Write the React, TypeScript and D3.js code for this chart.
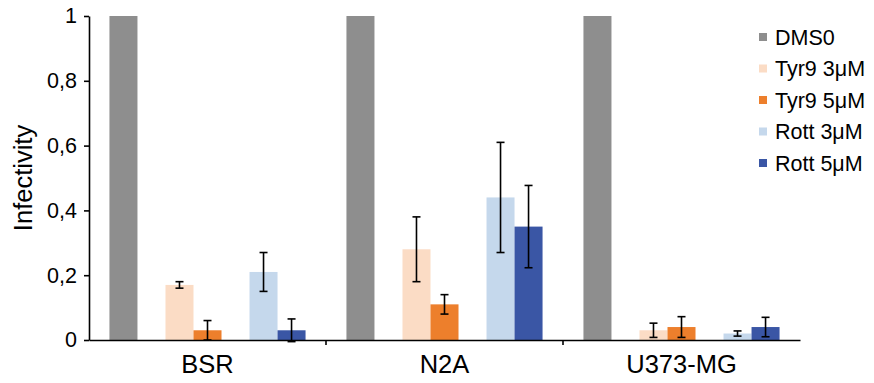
import React, { useEffect, useRef } from 'react';
import * as d3 from 'd3';

const cellLines = ['BSR', 'N2A', 'U373-MG'];
const seriesNames = ['DMS0', 'Tyr9 3μM', 'Tyr9 5μM', 'Rott 3μM', 'Rott 5μM'];
const seriesColors = ['#8e8e8e', '#fbdcc5', '#ed7f2c', '#c5d8ec', '#3a56a5'];
// slots inside each group: empty ones leave the gaps between treatment pairs
const slots = ['DMS0', 'gap1', 'Tyr9 3μM', 'Tyr9 5μM', 'gap2', 'Rott 3μM', 'Rott 5μM'];

const dmso = [1, 1, 1];
const tyr3 = [0.17, 0.28, 0.03];
const tyr5 = [0.03, 0.11, 0.04];
const rott3 = [0.21, 0.44, 0.02];
const rott5 = [0.03, 0.35, 0.04];

const tyr3Err = [0.01, 0.1, 0.022];
const tyr5Err = [0.03, 0.03, 0.032];
const rott3Err = [0.06, 0.17, 0.008];
const rott5Err = [0.035, 0.127, 0.03];

const yTicks = [0, 0.2, 0.4, 0.6, 0.8, 1];

const App = () => {
  const svgRef = useRef<SVGSVGElement>(null);

  useEffect(() => {
    const width = 874;
    const height = 383;
    const margin = { top: 16, right: 74, bottom: 43, left: 89 };
    const font = 'Liberation Sans, Arial, sans-serif';

    const svg = d3.select(svgRef.current)
      .attr('width', width)
      .attr('height', height)
      .style('position', 'absolute')
      .style('left', 0)
      .style('top', 0);
    svg.selectAll('*').remove();

    const values = [dmso, tyr3, tyr5, rott3, rott5];
    const errors = [null, tyr3Err, tyr5Err, rott3Err, rott5Err];

    const x0 = d3.scaleBand()
      .domain(cellLines)
      .range([margin.left, width - margin.right]);

    const x1 = d3.scaleBand()
      .domain(slots)
      .range([0, x0.bandwidth()])
      .paddingInner(0)
      .paddingOuter(0.73);

    const y = d3.scaleLinear()
      .domain([0, 1])
      .range([height - margin.bottom, margin.top]);

    const rows = cellLines.flatMap((c, i) =>
      seriesNames.map((s, j) => ({
        cat: c,
        series: s,
        value: values[j][i],
        err: errors[j] ? errors[j]![i] : null,
        color: seriesColors[j],
      }))
    );

    svg.append('g')
      .selectAll('rect')
      .data(rows)
      .join('rect')
      .attr('x', d => x0(d.cat)! + x1(d.series)!)
      .attr('y', d => y(d.value))
      .attr('width', x1.bandwidth())
      .attr('height', d => y(0) - y(d.value))
      .attr('fill', d => d.color);

    // error bars
    const eb = svg.append('g')
      .attr('stroke', '#000')
      .attr('stroke-width', 1.6)
      .selectAll('g')
      .data(rows.filter(d => d.err !== null))
      .join('g')
      .attr('transform', d => `translate(${x0(d.cat)! + x1(d.series)! + x1.bandwidth() / 2},0)`);
    eb.append('line')
      .attr('y1', d => y(d.value - d.err!))
      .attr('y2', d => y(d.value + d.err!));
    eb.append('line')
      .attr('x1', -4).attr('x2', 4)
      .attr('y1', d => y(d.value - d.err!))
      .attr('y2', d => y(d.value - d.err!));
    eb.append('line')
      .attr('x1', -4).attr('x2', 4)
      .attr('y1', d => y(d.value + d.err!))
      .attr('y2', d => y(d.value + d.err!));

    // y axis
    const yAxis = svg.append('g')
      .attr('transform', `translate(${margin.left},0)`)
      .call(d3.axisLeft(y).tickValues(yTicks).tickSize(5).tickSizeOuter(0)
        .tickFormat(d => (d === 0 || d === 1) ? String(d) : d3.format('.1f')(d as number).replace('.', ',')));
    yAxis.select('.domain').attr('stroke-width', 1.6);
    yAxis.selectAll('.tick line').attr('stroke-width', 1.6);
    yAxis.selectAll('text')
      .attr('x', -12)
      .style('font-family', font)
      .style('font-size', '21.5px')
      .attr('fill', '#000');

    // x axis
    const xAxis = svg.append('g')
      .attr('transform', `translate(0,${y(0)})`)
      .call(d3.axisBottom(x0).tickSize(0).tickSizeOuter(0));
    xAxis.select('.domain').attr('stroke-width', 1.6);
    xAxis.selectAll('text')
      .attr('dy', '0')
      .attr('y', 33)
      .style('font-family', font)
      .style('font-size', '25.5px')
      .attr('fill', '#000');
    xAxis.selectAll('line.sep')
      .data(cellLines.slice(1))
      .join('line')
      .attr('class', 'sep')
      .attr('x1', d => x0(d)!)
      .attr('x2', d => x0(d)!)
      .attr('y1', 0)
      .attr('y2', 5)
      .attr('stroke', '#000')
      .attr('stroke-width', 1.6);

    svg.append('text')
      .attr('transform', `translate(32,${(y(0) + y(1)) / 2}) rotate(-90)`)
      .attr('text-anchor', 'middle')
      .style('font-family', font)
      .style('font-size', '25.5px')
      .text('Infectivity');

    // legend
    const legend = svg.append('g')
      .selectAll('g')
      .data(seriesNames)
      .join('g')
      .attr('transform', (d, i) => `translate(759,${37 + i * 31.5})`);
    legend.append('rect')
      .attr('x', 0)
      .attr('y', -4)
      .attr('width', 8)
      .attr('height', 8)
      .attr('fill', (d, i) => seriesColors[i]);
    legend.append('text')
      .attr('x', 16)
      .attr('dy', '0.36em')
      .style('font-family', font)
      .style('font-size', '21.5px')
      .text(d => d);
  }, []);

  return <svg ref={svgRef}></svg>;
};

export default App;
